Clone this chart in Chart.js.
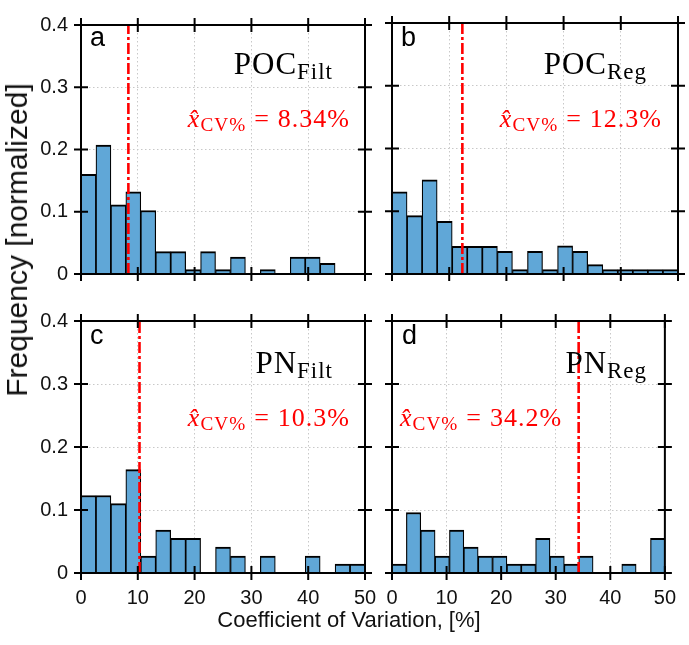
<!DOCTYPE html>
<html lang="en">
<head>
  <meta charset="UTF-8" />
  <title>Coefficient of Variation histograms</title>
  <script src="https://cdn.jsdelivr.net/npm/chart.js"></script>
  <style>
    body {
      margin: 0;
      width: 689px;
      height: 645px;
      position: relative;
      overflow: hidden;
      background: #ffffff;
      font-family: 'Liberation Sans', Arial, sans-serif;
    }

    canvas {
      position: absolute;
      left: 0;
      top: 0;
    }

    .lbl {
      position: absolute;
      line-height: 1;
      white-space: nowrap;
      z-index: 5;
    }

    .letter {
      font-size: 27px;
      color: #000;
    }

    .name {
      font-family: 'Liberation Serif', 'Times New Roman', serif;
      font-size: 31px;
      letter-spacing: 1px;
      color: #000;
    }

    .name sub, .med sub {
      font-size: 0.74em;
      vertical-align: -0.22em;
      line-height: 0;
    }

    .med {
      font-family: 'Liberation Serif', 'Times New Roman', serif;
      font-size: 26px;
      letter-spacing: 1px;
      color: #ff0000;
    }

    .med .eq {
      margin: 0 8px;
    }

    .xtitle {
      font-size: 22px;
      color: #111;
      left: 349px;
      top: 609px;
      transform: translateX(-50%);
    }

    .ytitle {
      font-size: 30px;
      color: #111;
      left: 17px;
      top: 240px;
      transform: translate(-50%, -50%) rotate(-90deg);
    }
  </style>
</head>

<body>
  <canvas id="pa" width="689" height="645"></canvas>
  <canvas id="pb" width="689" height="645"></canvas>
  <canvas id="pc" width="689" height="645"></canvas>
  <canvas id="pd" width="689" height="645"></canvas>

  <div class="lbl letter" style="left:90px; top:24px;">a</div>
  <div class="lbl letter" style="left:401px; top:24px;">b</div>
  <div class="lbl letter" style="left:90px; top:322px;">c</div>
  <div class="lbl letter" style="left:402px; top:322px;">d</div>

  <div class="lbl name" style="right:356px; top:48px;">POC<sub>Filt</sub></div>
  <div class="lbl name" style="right:42px; top:48px;">POC<sub>Reg</sub></div>
  <div class="lbl name" style="right:356px; top:347px;">PN<sub>Filt</sub></div>
  <div class="lbl name" style="right:42px; top:347px;">PN<sub>Reg</sub></div>

  <div class="lbl med" style="right:339px; top:106px;"><i>x&#770;</i><sub>CV%</sub><span class="eq">=</span>8.34%</div>
  <div class="lbl med" style="right:27px; top:106px;"><i>x&#770;</i><sub>CV%</sub><span class="eq">=</span>12.3%</div>
  <div class="lbl med" style="right:339px; top:405px;"><i>x&#770;</i><sub>CV%</sub><span class="eq">=</span>10.3%</div>
  <div class="lbl med" style="left:400px; top:405px;"><i>x&#770;</i><sub>CV%</sub><span class="eq">=</span>34.2%</div>

  <div class="lbl xtitle">Coefficient of Variation, [%]</div>
  <div class="lbl ytitle">Frequency [normalized]</div>

  <script>
    // bin centres of the 19 histogram bins between 0 and 50
    const binCenters = [1.32, 3.95, 6.58, 9.21, 11.84, 14.47, 17.11, 19.74, 22.37, 25.00,
                        27.63, 30.26, 32.89, 35.53, 38.16, 40.79, 43.42, 46.05, 48.68];
    const xTickLabels = ['0', '10', '20', '30', '40', '50'];
    const yTickLabels = ['0', '0.1', '0.2', '0.3', '0.4'];

    // normalized frequencies
    const pocFilt = [0.160, 0.207, 0.111, 0.132, 0.102, 0.036, 0.036, 0.007, 0.036, 0.007,
                     0.027, 0, 0.007, 0, 0.027, 0.027, 0.017, 0, 0];
    const pocReg  = [0.131, 0.093, 0.150, 0.084, 0.044, 0.044, 0.044, 0.036, 0.007, 0.036,
                     0.007, 0.045, 0.036, 0.015, 0.007, 0.007, 0.007, 0.007, 0.007];
    const pnFilt  = [0.123, 0.123, 0.110, 0.164, 0.027, 0.068, 0.055, 0.055, 0, 0.041,
                     0.027, 0, 0.027, 0, 0, 0.027, 0, 0.014, 0.014];
    const pnReg   = [0.014, 0.096, 0.068, 0.027, 0.068, 0.041, 0.027, 0.027, 0.014, 0.014,
                     0.055, 0.027, 0.014, 0.027, 0, 0, 0.014, 0, 0.055];

    // medians (dash-dot lines)
    const medPocFilt = 8.34;
    const medPocReg = 12.3;
    const medPnFilt = 10.3;
    const medPnReg = 34.2;

    Chart.defaults.font.family = "'Liberation Sans', Arial, sans-serif";
    Chart.defaults.font.size = 20;
    Chart.defaults.color = '#111';

    // box round the plot plus in-and-out tick marks on all four sides
    const framePlugin = {
      id: 'frame',
      afterDatasetsDraw(chart) {
        const { ctx, chartArea: a, scales: { x, y } } = chart;
        const t = 7;
        ctx.save();
        ctx.strokeStyle = '#000';
        ctx.lineWidth = 2;
        ctx.strokeRect(a.left, a.top, a.right - a.left, a.bottom - a.top);
        ctx.beginPath();
        x.ticks.forEach(tk => {
          const px = x.getPixelForValue(tk.value);
          ctx.moveTo(px, a.top - t); ctx.lineTo(px, a.top + t);
          ctx.moveTo(px, a.bottom - t); ctx.lineTo(px, a.bottom + t);
        });
        y.ticks.forEach(tk => {
          const py = y.getPixelForValue(tk.value);
          ctx.moveTo(a.left - t, py); ctx.lineTo(a.left + t, py);
          ctx.moveTo(a.right - t, py); ctx.lineTo(a.right + t, py);
        });
        ctx.stroke();
        ctx.restore();
      }
    };

    function makePanel(id, values, median, area, showX, showY) {
      const ctx = document.getElementById(id).getContext('2d');
      const yW = showY ? area.l : 0;
      const xH = showX ? 50 : 0;
      return new Chart(ctx, {
        type: 'bar',
        data: {
          datasets: [
            {
              type: 'line',
              data: [{ x: median, y: 0 }, { x: median, y: 0.4 }],
              borderColor: '#ff0000',
              borderWidth: 2.6,
              borderDash: [11, 3, 3, 3],
              pointRadius: 0,
              order: 0
            },
            {
              type: 'bar',
              data: binCenters.map((c, i) => ({ x: c, y: values[i] })),
              backgroundColor: '#60a7d7',
              borderColor: '#000',
              borderWidth: { top: 2, left: 1.2, right: 1.2, bottom: 0 },
              borderSkipped: 'start',
              barPercentage: 1,
              categoryPercentage: 1,
              order: 1
            }
          ]
        },
        options: {
          responsive: false,
          animation: false,
          events: [],
          layout: {
            padding: { left: area.l - yW, top: area.t, right: 689 - area.r, bottom: 645 - area.b - xH }
          },
          plugins: { legend: { display: false }, tooltip: { enabled: false } },
          scales: {
            x: {
              type: 'linear',
              min: 0,
              max: 50,
              offset: false,
              afterFit: s => { s.height = xH; },
              grid: { color: '#c8c8c8', lineWidth: 1, drawTicks: false, offset: false },
              border: { display: false, dash: [1.5, 2.5] },
              ticks: {
                display: showX,
                stepSize: 10,
                padding: 13,
                maxRotation: 0,
                callback: (v, i) => xTickLabels[i]
              }
            },
            y: {
              type: 'linear',
              min: 0,
              max: 0.4,
              afterFit: s => { s.width = yW; },
              grid: { color: '#c8c8c8', lineWidth: 1, drawTicks: false },
              border: { display: false, dash: [1.5, 2.5] },
              ticks: {
                display: showY,
                stepSize: 0.1,
                padding: 13,
                callback: (v, i) => yTickLabels[i]
              }
            }
          }
        },
        plugins: [framePlugin]
      });
    }

    makePanel('pa', pocFilt, medPocFilt, { l: 81, t: 23, r: 365, b: 274 }, false, true);
    makePanel('pb', pocReg, medPocReg, { l: 392, t: 23, r: 678, b: 274 }, false, false);
    makePanel('pc', pnFilt, medPnFilt, { l: 81, t: 321, r: 365, b: 573 }, true, true);
    makePanel('pd', pnReg, medPnReg, { l: 392, t: 321, r: 678, b: 573 }, true, false);
  </script>
</body>
</html>
